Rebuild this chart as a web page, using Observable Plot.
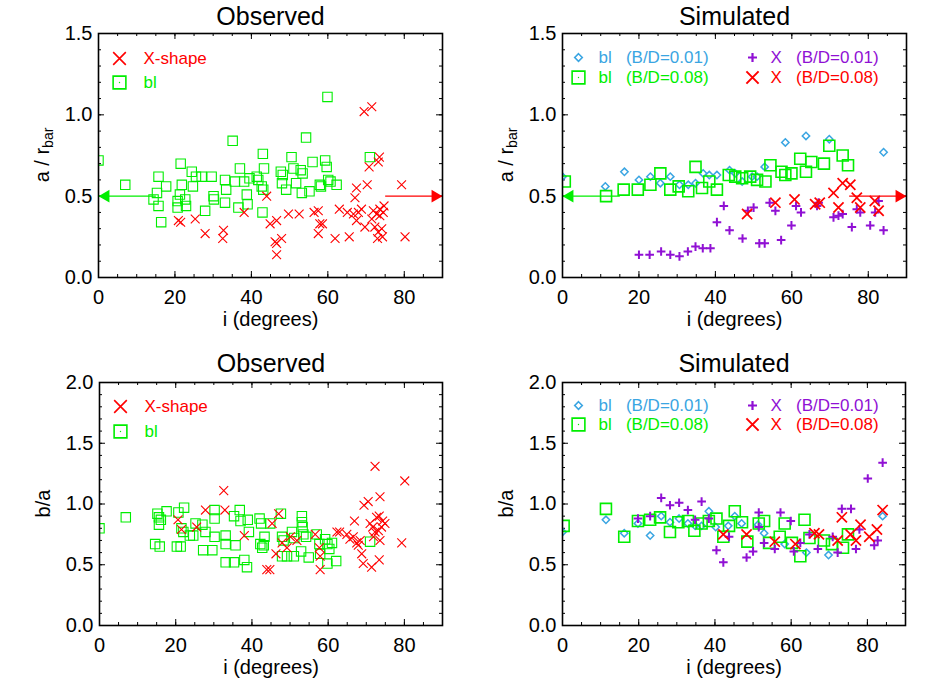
<!DOCTYPE html>
<html>
<head>
<meta charset="utf-8">
<script src="https://cdn.jsdelivr.net/npm/d3@7"></script>
<script src="https://cdn.jsdelivr.net/npm/@observablehq/plot@0.6"></script>
<style>
  body { margin: 0; background: #ffffff; }
  #wrap { position: relative; width: 926px; height: 695px; background: #ffffff; }
  .panel { position: absolute; }
</style>
</head>
<body>
<div id="wrap"></div>
<script>
// ---------------- DATA ----------------
const xMajorTicks = [0, 20, 40, 60, 80];
const aTicks = [0, 0.5, 1.0, 1.5];
const baTicks = [0, 0.5, 1.0, 1.5, 2.0];
const xTitle = "i (degrees)";
const panelTitles = ["Observed", "Simulated"];
const legendObserved = ["X-shape", "bl"];
const legendSimulated = ["bl\u00a0\u00a0\u00a0(B/D=0.01)", "bl\u00a0\u00a0\u00a0(B/D=0.08)", "X\u00a0\u00a0\u00a0(B/D=0.01)", "X\u00a0\u00a0\u00a0(B/D=0.08)"];
const arrowLevel = 0.5;
const blLimit = [15, 0];   // from, to (arrow pointing to lower i)
const xLimit = [75, 90];   // from, to (arrow pointing to higher i)

// Observed a/r_bar: bl (squares)
const obsA_bl = [[0,0.72],[7.0,0.57],[15.7,0.62],[14.4,0.48],[15.3,0.52],[15.7,0.44],[16.4,0.34],[17.7,0.56],[21.5,0.70],[21.8,0.57],[21.3,0.51],[20.7,0.47],[20.7,0.43],[22.7,0.48],[22.9,0.44],[24.4,0.65],[24.7,0.56],[25.5,0.62],[27.0,0.62],[29.6,0.62],[27.9,0.41],[30.1,0.50],[30.2,0.48],[33.1,0.60],[33.4,0.54],[33.1,0.46],[35.1,0.84],[35.7,0.59],[36.6,0.43],[37.0,0.67],[38.1,0.59],[38.8,0.51],[39.0,0.45],[39.5,0.61],[41.4,0.62],[41.8,0.60],[43.0,0.76],[43.3,0.67],[42.7,0.56],[43.1,0.54],[42.9,0.40],[47.7,0.65],[48.2,0.63],[48.0,0.58],[49.1,0.54],[50.5,0.74],[51.0,0.67],[51.7,0.58],[52.9,0.66],[53.4,0.64],[53.2,0.52],[55.2,0.53],[54.3,0.86],[56.0,0.71],[57.9,0.57],[58.2,0.56],[59.3,0.72],[59.7,0.68],[59.9,1.11],[60.1,0.60],[60.7,0.59],[62.3,0.57],[71.0,0.74]];
// Observed a/r_bar: X-shape (crosses)
const obsA_x = [[20.9,0.35],[21.5,0.34],[25.3,0.36],[27.9,0.27],[32.7,0.29],[32.5,0.24],[38.1,0.40],[44.0,0.50],[44.9,0.33],[46.6,0.35],[46.2,0.22],[46.6,0.21],[47.9,0.24],[46.6,0.14],[49.7,0.39],[52.5,0.39],[56.4,0.40],[57.5,0.41],[57.9,0.33],[58.6,0.33],[57.5,0.27],[61.9,0.24],[63.0,0.42],[65.1,0.40],[65.6,0.25],[67.1,0.49],[67.5,0.55],[66.7,0.39],[68.0,0.40],[68.8,0.42],[67.5,0.35],[69.7,0.31],[70.3,0.57],[69.5,1.02],[71.5,1.05],[70.8,0.68],[73.5,0.74],[73.2,0.71],[71.9,0.41],[72.8,0.39],[73.6,0.42],[74.7,0.44],[71.5,0.36],[72.3,0.31],[73.2,0.28],[74.1,0.30],[73.0,0.24],[74.3,0.25],[73.6,0.38],[74.5,0.40],[79.3,0.57],[80.2,0.25]];

// Simulated a/r_bar
const simA_bl01 = [[0,0.62],[11.2,0.56],[16.2,0.65],[20.0,0.60],[23.0,0.62],[25.6,0.58],[28.2,0.62],[30.6,0.57],[32.9,0.57],[34.8,0.58],[36.8,0.64],[38.4,0.63],[40.4,0.63],[43.7,0.66],[45.2,0.64],[47.0,0.59],[49.6,0.62],[50.9,0.62],[52.9,0.68],[58.3,0.83],[63.7,0.87],[69.8,0.85],[84.0,0.77]];
const simA_bl08 = [[0.6,0.59],[11.4,0.50],[16.0,0.54],[19.7,0.54],[23.0,0.57],[25.6,0.64],[28.2,0.54],[30.4,0.56],[32.9,0.53],[34.8,0.68],[36.5,0.55],[38.4,0.59],[40.4,0.54],[43.5,0.63],[45.2,0.62],[47.0,0.61],[49.1,0.62],[50.9,0.60],[53.1,0.59],[54.4,0.69],[57.3,0.65],[58.3,0.63],[59.9,0.64],[62.2,0.73],[63.7,0.65],[65.1,0.71],[68.4,0.70],[69.8,0.81],[73.3,0.75],[74.7,0.69]];
const simA_x01 = [[20.0,0.14],[22.8,0.14],[25.8,0.16],[28.2,0.14],[30.6,0.13],[32.8,0.16],[34.8,0.19],[36.7,0.18],[38.7,0.18],[40.4,0.34],[42.2,0.44],[43.7,0.29],[47.1,0.24],[48.5,0.41],[50.0,0.43],[51.5,0.21],[52.9,0.21],[54.2,0.46],[55.7,0.41],[57.2,0.23],[59.9,0.32],[61.1,0.44],[62.4,0.40],[66.6,0.44],[67.0,0.46],[70.9,0.37],[72.2,0.38],[73.3,0.39],[75.7,0.31],[77.0,0.42],[77.9,0.40],[80.5,0.32],[81.8,0.40],[82.7,0.47],[84.0,0.29]];
const simA_x08 = [[48.3,0.39],[55.7,0.46],[60.7,0.48],[66.1,0.45],[67.3,0.46],[70.9,0.52],[72.2,0.43],[73.3,0.58],[75.3,0.57],[77.0,0.49],[77.9,0.43],[81.7,0.47],[82.7,0.41]];

// Observed b/a
const obsB_bl = [[0,0.80],[6.9,0.89],[15.2,0.92],[15.6,0.89],[16.1,0.87],[15.6,0.83],[14.6,0.67],[15.8,0.65],[17.6,0.94],[20.3,0.65],[21.3,0.65],[20.7,0.93],[22.2,0.97],[21.5,0.80],[22.0,0.77],[23.7,0.74],[24.6,0.74],[25.2,0.84],[27.0,0.83],[27.8,0.77],[27.2,0.62],[29.6,0.62],[30.2,0.95],[30.2,0.88],[30.2,0.73],[33.1,0.74],[33.1,0.67],[33.1,0.52],[35.3,0.52],[35.7,0.66],[35.3,0.90],[36.8,0.95],[37.0,0.86],[38.9,0.87],[39.2,0.77],[38.0,0.54],[38.7,0.48],[42.0,0.88],[42.4,0.84],[43.3,0.73],[42.2,0.67],[42.7,0.64],[43.1,0.66],[44.8,0.84],[47.6,0.92],[47.9,0.73],[48.3,0.70],[47.9,0.57],[49.2,0.57],[50.5,0.77],[51.0,0.57],[51.1,0.72],[53.1,0.90],[53.1,0.85],[53.3,0.81],[53.5,0.75],[54.2,0.73],[52.9,0.61],[54.9,0.56],[57.0,0.75],[57.7,0.67],[57.9,0.59],[59.2,0.71],[59.8,0.67],[60.3,0.63],[59.8,0.51],[61.0,0.68],[62.1,0.53],[71.0,0.69]];
const obsB_x = [[20.6,0.87],[21.5,0.79],[25.5,0.81],[27.8,0.95],[32.6,1.11],[32.9,0.95],[38.0,0.74],[43.9,0.46],[44.7,0.46],[45.3,0.84],[46.3,0.59],[47.0,0.92],[47.9,0.68],[49.2,0.64],[50.1,0.73],[51.8,0.70],[56.6,0.75],[57.7,0.64],[57.9,0.46],[57.9,0.57],[62.3,0.77],[63.0,0.77],[64.9,0.75],[65.7,0.71],[66.9,0.86],[66.6,0.73],[67.5,0.68],[67.9,0.66],[68.4,0.70],[69.4,0.99],[70.5,1.02],[68.8,0.59],[69.2,0.51],[71.4,0.48],[72.3,1.31],[73.6,1.06],[71.0,0.84],[71.7,0.81],[72.7,0.89],[73.4,0.90],[74.3,0.86],[72.3,0.77],[73.2,0.78],[74.0,0.81],[74.9,0.84],[73.6,0.70],[73.4,0.54],[79.3,0.68],[80.1,1.19],[71.9,0.73]];

// Simulated b/a
const simB_bl01 = [[0,0.77],[11.4,0.87],[16.2,0.76],[19.8,0.84],[23.0,0.74],[25.9,0.90],[28.2,0.85],[30.6,0.88],[32.9,0.84],[34.8,0.82],[36.5,0.82],[38.4,0.94],[40.2,0.81],[43.5,0.82],[45.2,0.90],[47.0,0.84],[51.3,0.83],[52.9,0.76],[58.3,0.67],[64.0,0.60],[69.8,0.58],[84.0,0.90]];
const simB_bl08 = [[0.3,0.82],[11.4,0.96],[16.2,0.73],[19.8,0.86],[23.0,0.87],[25.6,0.89],[28.2,0.77],[30.4,0.85],[32.9,0.86],[34.6,0.78],[36.5,0.84],[38.4,0.86],[40.4,0.88],[42.2,0.73],[43.7,0.82],[45.2,0.94],[47.1,0.85],[48.5,0.69],[51.5,0.84],[52.9,0.86],[54.2,0.68],[57.0,0.73],[58.3,0.84],[60.2,0.68],[62.4,0.57],[63.5,0.87],[64.8,0.72],[68.6,0.70],[70.7,0.67],[73.6,0.64],[74.9,0.75]];
const simB_x01 = [[19.8,0.88],[23.0,0.90],[25.9,1.05],[28.2,0.99],[30.6,1.01],[32.9,0.95],[34.8,0.87],[36.5,1.02],[38.4,0.88],[40.4,0.62],[42.2,0.52],[43.7,0.73],[48.3,0.56],[50.0,0.61],[51.5,0.93],[51.5,0.81],[52.9,0.68],[55.7,0.63],[57.2,0.93],[59.9,0.86],[60.7,0.61],[62.4,0.68],[64.8,0.75],[67.0,0.63],[70.9,0.73],[72.2,0.60],[73.3,0.96],[75.7,0.96],[77.0,0.63],[77.9,0.79],[80.1,1.21],[81.8,0.66],[82.7,0.70],[84.0,1.34]];
const simB_x08 = [[42.2,0.75],[48.3,0.75],[55.7,0.69],[61.1,0.67],[66.1,0.76],[67.3,0.75],[72.2,0.70],[73.3,0.89],[75.6,0.75],[77.0,0.70],[78.2,0.83],[80.5,0.73],[82.5,0.79],[84.0,0.95]];

// ---------------- STYLE ----------------
const FONT = "'Liberation Sans', Arial, Helvetica, sans-serif";
const RED = "#ff0000", GREEN = "#00ee00", CYAN = "#3aa5e2", PURPLE = "#9010d4";
const W = 463, H = 347;

function makePanel(o) {
  const fw = W - o.mL - o.mR, fh = H - o.mT - o.mB;
  const xMinor = d3.range(0, 91, 5);
  const yMinor = d3.range(0, Math.round(o.yMax * 10) + 1).map(i => i / 10);
  const marks = [];
  // inward ticks on all four sides
  const minorLen = 3, majorLen = 6;
  marks.push(
    Plot.tickX(xMinor, {x: d => d, insetTop: fh - minorLen, stroke: "black"}),
    Plot.tickX(xMinor, {x: d => d, insetBottom: fh - minorLen, stroke: "black"}),
    Plot.tickX(xMajorTicks, {x: d => d, insetTop: fh - majorLen, stroke: "black"}),
    Plot.tickX(xMajorTicks, {x: d => d, insetBottom: fh - majorLen, stroke: "black"}),
    Plot.tickY(yMinor, {y: d => d, insetRight: fw - minorLen, stroke: "black"}),
    Plot.tickY(yMinor, {y: d => d, insetLeft: fw - minorLen, stroke: "black"}),
    Plot.tickY(o.yTicks, {y: d => d, insetRight: fw - majorLen, stroke: "black"}),
    Plot.tickY(o.yTicks, {y: d => d, insetLeft: fw - majorLen, stroke: "black"})
  );
  marks.push(
    Plot.axisX(xMajorTicks, {tickSize: 0, tickPadding: 12, fontSize: 20, label: null}),
    Plot.axisY(o.yTicks, {tickSize: 0, tickPadding: 6, fontSize: 20, label: null, tickFormat: d3.format(".1f")})
  );
  // arrows
  if (o.arrows) {
    marks.push(
      Plot.link([blLimit], {x1: d => d[0], x2: d => d[1], y1: () => arrowLevel, y2: () => arrowLevel, stroke: GREEN, strokeWidth: 1.3}),
      Plot.dot([blLimit], {x: d => d[1], y: () => arrowLevel, symbol: "triangle", r: 4.7, fill: GREEN, stroke: "none", rotate: -90, dx: 7.3}),
      Plot.link([xLimit], {x1: d => d[0], x2: d => d[1], y1: () => arrowLevel, y2: () => arrowLevel, stroke: RED, strokeWidth: 1.3}),
      Plot.dot([xLimit], {x: d => d[1], y: () => arrowLevel, symbol: "triangle", r: 4.7, fill: RED, stroke: "none", rotate: 90, dx: -7.3})
    );
  }
  // data
  for (const s of o.series) {
    marks.push(Plot.dot(s.data, {x: d => d[0], y: d => d[1], symbol: s.symbol, r: s.r, stroke: s.color, strokeWidth: s.sw, fill: "none", clip: true}));
  }
  // legend
  for (const L of o.legend) {
    marks.push(Plot.dot([0], {frameAnchor: "top-left", dx: L.dx, dy: L.dy, symbol: L.symbol, r: L.r, stroke: L.color, strokeWidth: L.sw, fill: "none"}));
    if (L.symbol === "square") {
      marks.push(Plot.dot([0], {frameAnchor: "top-left", dx: L.dx, dy: L.dy, r: 0.7, fill: L.color, stroke: "none"}));
    }
    marks.push(Plot.text([L.label], {frameAnchor: "top-left", dx: L.tx, dy: L.dy, text: d => d, textAnchor: "start", lineAnchor: "middle", fill: L.color, fontSize: 17}));
  }
  // frame, title, x title
  marks.push(
    Plot.frame({stroke: "black", strokeWidth: 1.6}),
    Plot.text([o.title], {frameAnchor: "top", dy: o.titleDy, text: d => d, fontSize: 25, lineAnchor: "middle", fill: "black"}),
    Plot.text([xTitle], {frameAnchor: "bottom", dy: 42, text: d => d, fontSize: 20, lineAnchor: "middle", fill: "black"})
  );

  const svg = Plot.plot({
    width: W, height: H,
    marginLeft: o.mL, marginRight: o.mR, marginTop: o.mT, marginBottom: o.mB,
    x: {domain: [0, 90]},
    y: {domain: [0, o.yMax]},
    style: {fontFamily: FONT, fontSize: "20px", background: "transparent", color: "black", overflow: "visible"},
    marks
  });
  // y axis title with subscript
  const t = d3.select(svg).append("text")
    .attr("transform", `translate(${o.mL - 49},${o.mT + fh / 2}) rotate(-90)`)
    .attr("text-anchor", "middle")
    .attr("font-family", FONT)
    .attr("font-size", 20)
    .attr("fill", "black");
  t.append("tspan").text(o.ylabel);
  if (o.ysub) t.append("tspan").attr("font-size", 14).attr("dy", 4).text(o.ysub);

  svg.classList.add("panel");
  svg.style.left = o.left + "px";
  svg.style.top = o.top + "px";
  document.getElementById("wrap").appendChild(svg);
}

const obsLegend = (dy1, dy2) => [
  {label: legendObserved[0], symbol: "times", r: 5.8, sw: 1.6, color: RED, dx: 21, tx: 45, dy: dy1},
  {label: legendObserved[1], symbol: "square", r: 7.2, sw: 1.6, color: GREEN, dx: 21, tx: 45, dy: dy2}
];
const simLegend = (dy1, dy2) => [
  {label: legendSimulated[0], symbol: "diamond2", r: 3.4, sw: 1.6, color: CYAN, dx: 16, tx: 36, dy: dy1},
  {label: legendSimulated[1], symbol: "square", r: 7.2, sw: 1.6, color: GREEN, dx: 16, tx: 36, dy: dy2},
  {label: legendSimulated[2], symbol: "plus", r: 3.0, sw: 2.2, color: PURPLE, dx: 190, tx: 208, dy: dy1},
  {label: legendSimulated[3], symbol: "times", r: 5.6, sw: 2, color: RED, dx: 190, tx: 208, dy: dy2}
];
const obsSeries = (bl, x) => [
  {data: bl, symbol: "square", r: 5.3, sw: 1.1, color: GREEN},
  {data: x, symbol: "times", r: 4.1, sw: 1.1, color: RED}
];
const simSeries = (b1, b8, x1, x8) => [
  {data: b1, symbol: "diamond2", r: 3.3, sw: 1.5, color: CYAN},
  {data: b8, symbol: "square", r: 6.2, sw: 1.6, color: GREEN},
  {data: x1, symbol: "plus", r: 2.9, sw: 2, color: PURPLE},
  {data: x8, symbol: "times", r: 4.7, sw: 1.7, color: RED}
];

makePanel({left: 0, top: 0, mL: 98, mR: 21, mT: 33, mB: 70, yMax: 1.5, yTicks: aTicks, title: panelTitles[0], titleDy: -17,
  ylabel: "a / r", ysub: "bar", arrows: true, series: obsSeries(obsA_bl, obsA_x), legend: obsLegend(25, 49)});
makePanel({left: 463, top: 0, mL: 99, mR: 20, mT: 33, mB: 70, yMax: 1.5, yTicks: aTicks, title: panelTitles[1], titleDy: -17,
  ylabel: "a / r", ysub: "bar", arrows: true, series: simSeries(simA_bl01, simA_bl08, simA_x01, simA_x08), legend: simLegend(24, 44)});
makePanel({left: 0, top: 348, mL: 99, mR: 21, mT: 34, mB: 70, yMax: 2.0, yTicks: baTicks, title: panelTitles[0], titleDy: -19,
  ylabel: "b/a", ysub: null, arrows: false, series: obsSeries(obsB_bl, obsB_x), legend: obsLegend(24, 49)});
makePanel({left: 463, top: 348, mL: 99, mR: 21, mT: 34, mB: 70, yMax: 2.0, yTicks: baTicks, title: panelTitles[1], titleDy: -19,
  ylabel: "b/a", ysub: null, arrows: false, series: simSeries(simB_bl01, simB_bl08, simB_x01, simB_x08), legend: simLegend(23, 42)});
</script>
</body>
</html>
